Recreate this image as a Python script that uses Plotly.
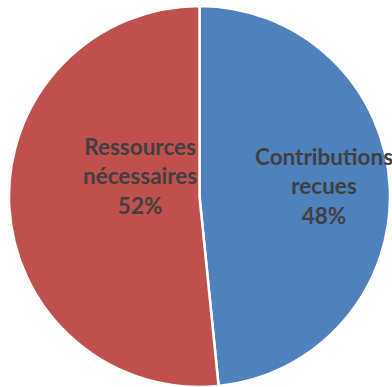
import plotly.graph_objects as go

labels = ["Contributions recues", "Ressources nécessaires"]
label_lines = [["Contributions", "recues"], ["Ressources", "nécessaires"]]
values = [48.4, 51.6]
colors = ["#4F81BD", "#C0504D"]

W, H = 392, 387
cx, cy, r = 199.5, 196.5, 190.5

fig = go.Figure(go.Pie(
    labels=labels, values=values, sort=False, direction="clockwise", rotation=0,
    marker=dict(colors=colors, line=dict(color="white", width=2.5)),
    textinfo="none", hoverinfo="label+percent", showlegend=False,
    domain=dict(x=[(cx - r) / W, (cx + r) / W], y=[1 - (cy + r) / H, 1 - (cy - r) / H]),
))

total = sum(values)
label_pos = [(323.5, 186), (140, 176)]
for lines, v, (lx, ly) in zip(label_lines, values, label_pos):
    txt = "<br>".join(lines + [f"{round(100 * v / total)}%"])
    fig.add_annotation(x=lx / W, y=1 - ly / H, xref="paper", yref="paper", text=txt,
                       showarrow=False, align="center", xanchor="center", yanchor="middle",
                       font=dict(family="Lato", size=22.5, color="#404040", weight="bold"))

fig.update_layout(width=W, height=H, margin=dict(l=0, r=0, t=0, b=0),
                  paper_bgcolor="white", plot_bgcolor="white")
fig.write_html("out.html", config={"displayModeBar": False},
               post_script="document.body.style.margin='0';document.body.style.overflow='hidden';")
